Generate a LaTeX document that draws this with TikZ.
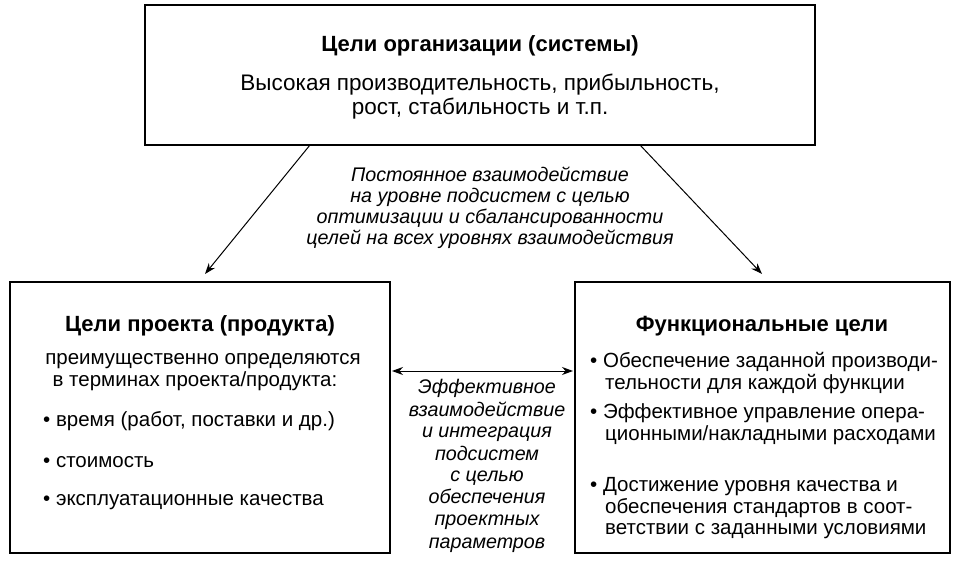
\documentclass[tikz,border=0pt]{standalone}
\usepackage{fontspec}
\setmainfont{Liberation Sans}
\usetikzlibrary{arrows.meta}
\begin{document}
\begin{tikzpicture}[x=1pt,y=-1pt,
 box/.style={draw,line width=1.3pt},
 t/.style={anchor=base,inner sep=0pt,font=\fontsize{20.5}{22}\selectfont},
 tt/.style={t,font=\fontsize{22.5}{22}\selectfont},
 tb/.style={t,font=\fontsize{22}{22}\selectfont\bfseries},
 ti/.style={t,font=\fontsize{19.7}{22}\selectfont\itshape},
 tl/.style={t,anchor=base west},
 arr/.style={line width=1pt,-{Stealth[length=11pt,width=8pt]}}]
\useasboundingbox (0,0) rectangle (964,564);
\draw[box] (145,5) rectangle (815,145);
\coordinate (top1) at (310,145); \coordinate (top2) at (640,145);
\draw[box] (10,282) rectangle (390,553);
\draw[box] (575,282) rectangle (950,553);
\coordinate (lt) at (205,274); \coordinate (rt) at (762,274);
\coordinate (la) at (392,371); \coordinate (ra) at (573,371);
\draw[arr] (top1) -- (lt);
\draw[arr] (top2) -- (rt);
\draw[arr,{Stealth[length=11pt,width=8pt]}-{Stealth[length=11pt,width=8pt]}] (la) -- (ra);
\node[tb] (h1) at (480,52) {Цели организации (системы)};
\node[tt] (h2) at (480,91) {Высокая производительность, прибыльность,};
\node[tt] (h3) at (480,115) {рост, стабильность и т.п.};
\node[ti] (m1) at (490,182) {Постоянное взаимодействие};
\node[ti] (m2) at (490,203) {на уровне подсистем с целью};
\node[ti] (m3) at (490,224) {оптимизации и сбалансированности};
\node[ti] (m4) at (490,245) {целей на всех уровнях взаимодействия};
\node[tb] (l1) at (200,331) {Цели проекта (продукта)};
\node[t] (l2) at (203,364) {преимущественно определяются};
\node[t] (l3) at (195,386) {в терминах проекта/продукта:};
\node[tl] (l4) at (43,426) {• время (работ, поставки и др.)};
\node[tl] (l5) at (43,467) {• стоимость};
\node[tl] (l6) at (43,505) {• эксплуатационные качества};
\foreach \s/\y [count=\i] in {Эффективное/393,взаимодействие/416,и интеграция/437,подсистем/460,с целью/481,обеспечения/503,проектных/525,параметров/548}
 \node[ti] (c\i) at (487,\y) {\s};
\node[tb] (r1) at (762,331) {Функциональные цели};
\node[tl] (r2) at (590,367) {• Обеспечение заданной производи-};
\node[tl] (r3) at (605,389) {тельности для каждой функции};
\node[tl] (r4) at (590,418) {• Эффективное управление опера-};
\node[tl] (r5) at (605,440) {ционными/накладными расходами};
\node[tl] (r6) at (590,491) {• Достижение уровня качества и};
\node[tl] (r7) at (605,513) {обеспечения стандартов в соот-};
\node[tl] (r8) at (605,534) {ветствии с заданными условиями};
\end{tikzpicture}
\end{document}
